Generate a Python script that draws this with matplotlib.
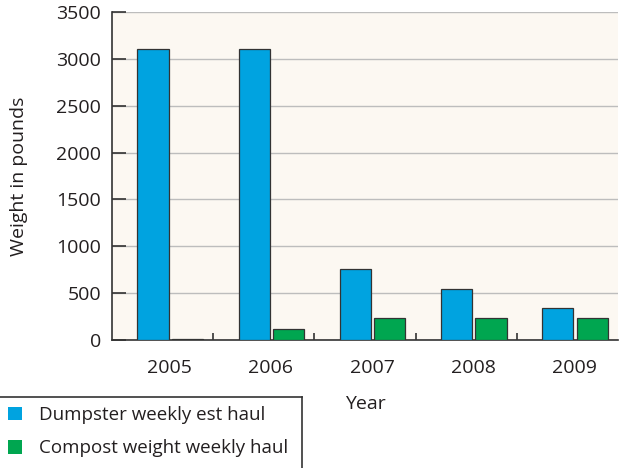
import numpy as np
import matplotlib.pyplot as plt
from matplotlib.patches import Patch
from matplotlib.lines import Line2D

# ── Data ──────────────────────────────────────────────────────────────────────
years = ["2005", "2006", "2007", "2008", "2009"]
dumpster = [3100, 3100, 760, 540, 340]
compost = [8, 120, 240, 240, 240]
y_ticks = [0, 500, 1000, 1500, 2000, 2500, 3000, 3500]

BLUE = "#00A3E0"
GREEN = "#00A650"
EDGE = "#333333"
TEXT = "#231F20"

plt.rcParams["font.family"] = ["Open Sans", "DejaVu Sans"]

W, H = 619, 468
fig = plt.figure(figsize=(W / 100, H / 100), dpi=100)
ax = fig.add_axes([112 / W, 1 - 340 / H, 506 / W, 328 / H])
ax.set_facecolor("#FCF8F2")

x = np.arange(len(years))
w = 0.31
ax.bar(x - 0.165, dumpster, w, color=BLUE, edgecolor=EDGE, linewidth=0.9, zorder=3)
ax.bar(x + 0.175, compost, w, color=GREEN, edgecolor=EDGE, linewidth=0.9, zorder=3)

ax.set_xlim(-0.57, 4.43)
ax.set_ylim(0, 3500)
ax.set_yticks(y_ticks)
ax.set_xticks(x)
ax.set_xticklabels(years)
ax.set_xticks(x[1:] - 0.57, minor=True)

ax.yaxis.grid(True, color="#BDBDBD", linewidth=1.0, zorder=0)
ax.set_axisbelow(True)
ax.tick_params(axis="y", direction="in", length=10, width=1.2, color=EDGE,
               labelsize=14, labelcolor=TEXT, pad=8)
ax.tick_params(axis="x", which="major", length=0, labelsize=14,
               labelcolor=TEXT, pad=14)
ax.tick_params(axis="x", which="minor", direction="in", length=5, width=1.2, color=EDGE)

for s in ("top", "right"):
    ax.spines[s].set_visible(False)
for s in ("left", "bottom"):
    ax.spines[s].set_color(EDGE)
    ax.spines[s].set_linewidth(1.2)

ax.set_ylabel("Weight in pounds", fontsize=14, color=TEXT)
ax.yaxis.set_label_coords(-(112 - 28) / 506, 0.5)
ax.set_xlabel("Year", fontsize=14, color=TEXT)
ax.xaxis.set_label_coords(0.5, -(395 - 340) / 328)

# legend box: only top and right edges are visible in the frame
fig.add_artist(Line2D([0, 302 / W], [1 - 397 / H] * 2, color=EDGE, lw=1.2))
fig.add_artist(Line2D([302 / W] * 2, [1 - 397 / H, 0], color=EDGE, lw=1.2))

handles = [Patch(facecolor=BLUE, edgecolor="none"),
           Patch(facecolor=GREEN, edgecolor="none")]
leg = fig.legend(handles, ["Dumpster weekly est haul", "Compost weight weekly haul"],
                 loc="upper left", bbox_to_anchor=(8 / W, 1 - 406 / H),
                 frameon=False, fontsize=13.5,
                 handlelength=0.75, handleheight=0.75, handletextpad=0.9,
                 labelspacing=0.82, borderpad=0, borderaxespad=0)
for t in leg.get_texts():
    t.set_color(TEXT)

fig.savefig("out.png", dpi=100)
